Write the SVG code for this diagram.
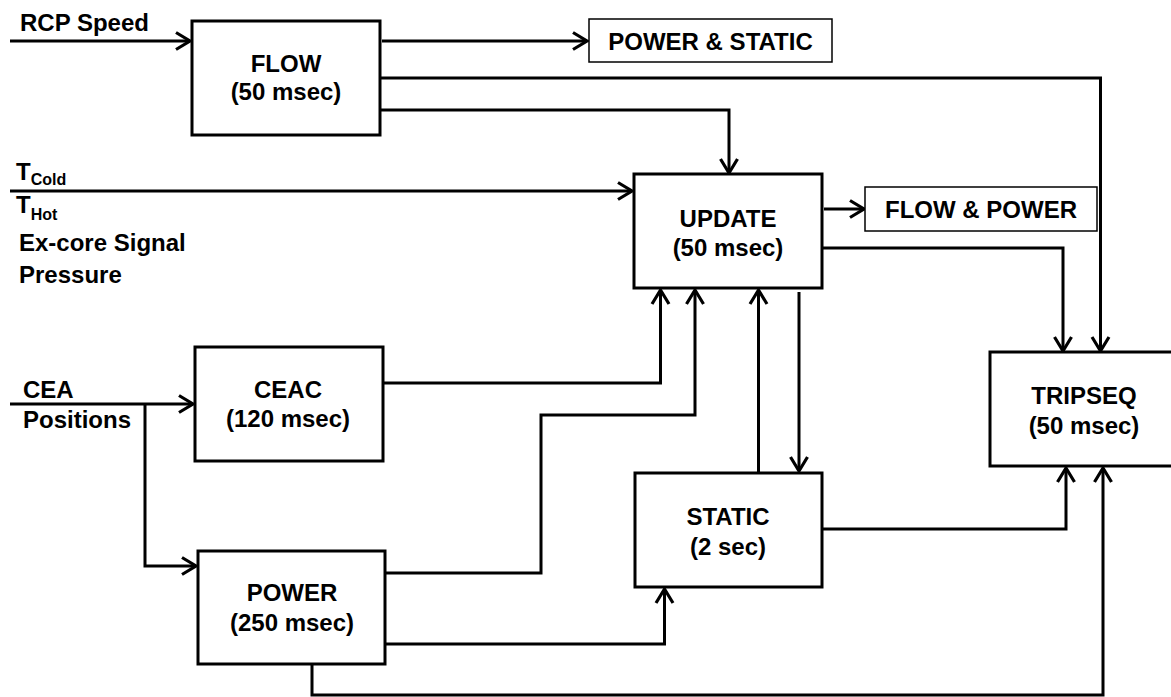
<svg xmlns="http://www.w3.org/2000/svg" width="1171" height="697" viewBox="0 0 1171 697">
<defs>
<style>
text{font-family:"Liberation Sans",Arial,sans-serif;font-weight:bold;fill:#000;font-size:24px}
.c{text-anchor:middle}
.sub{font-size:16px}
.node{fill:#fff;stroke:#000;stroke-width:3}
.lbl{fill:#fff;stroke:#000;stroke-width:1.5}
.wire{fill:none;stroke:#000;stroke-width:3;stroke-linejoin:miter;marker-end:url(#ah)}
</style>
<marker id="ah" markerUnits="userSpaceOnUse" markerWidth="24" markerHeight="24" viewBox="-18 -12 24 24" refX="0" refY="0" orient="auto" overflow="visible">
<path d="M-14,-8.5 L0,0 L-14,8.5" fill="none" stroke="#000" stroke-width="3.2"/>
</marker>
</defs>
<rect width="1171" height="697" fill="#fff"/>

<g id="inputs">
<text x="20" y="31">RCP Speed</text>
<text x="16" y="180">T<tspan class="sub" dy="5">Cold</tspan></text>
<text x="16" y="213">T<tspan class="sub" dy="7">Hot</tspan></text>
<text x="19" y="251">Ex-core Signal</text>
<text x="19" y="283">Pressure</text>
<text x="23" y="398">CEA</text>
<text x="23" y="428">Positions</text>
</g>

<g id="connectors">
<path class="wire" d="M10,41 H190"/>
<path class="wire" d="M382,41 H587"/>
<path class="wire" d="M380,78 H1100.5 V351"/>
<path class="wire" d="M380,110 H729 V173"/>
<path class="wire" d="M10,191 H632"/>
<path class="wire" d="M824,209 H864"/>
<path class="wire" d="M822,248 H1063 V351"/>
<path class="wire" d="M10,404 H193"/>
<path class="wire" d="M145,404 V566 H196"/>
<path class="wire" d="M383,383 H660.5 V290"/>
<path class="wire" d="M385,573 H541 V415 H695 V290"/>
<path class="wire" d="M758.5,473 V290"/>
<path class="wire" d="M799,292 V471"/>
<path class="wire" d="M385,644 H664.5 V589"/>
<path class="wire" d="M822,529 H1066 V468"/>
<path class="wire" d="M312,664 V695 H1103 V468"/>
</g>

<g id="flow">
<rect class="node" x="192" y="21" width="188" height="114"/>
<text class="c" x="286" y="72">FLOW</text>
<text class="c" x="286" y="100">(50 msec)</text>
</g>

<g id="power-static-out">
<rect class="lbl" x="589" y="19" width="243" height="43"/>
<text class="c" x="710.5" y="50">POWER &amp; STATIC</text>
</g>

<g id="update">
<rect class="node" x="634" y="174" width="188" height="114"/>
<text class="c" x="728" y="227">UPDATE</text>
<text class="c" x="728" y="256">(50 msec)</text>
</g>

<g id="flow-power-out">
<rect class="lbl" x="865" y="187" width="232" height="44"/>
<text class="c" x="981" y="218">FLOW &amp; POWER</text>
</g>

<g id="ceac">
<rect class="node" x="195" y="347" width="188" height="114"/>
<text class="c" x="288" y="398">CEAC</text>
<text class="c" x="288" y="427">(120 msec)</text>
</g>

<g id="power">
<rect class="node" x="198" y="551" width="187" height="113"/>
<text class="c" x="292" y="601">POWER</text>
<text class="c" x="292" y="631">(250 msec)</text>
</g>

<g id="static">
<rect class="node" x="635" y="473" width="187" height="114"/>
<text class="c" x="728" y="525">STATIC</text>
<text class="c" x="728" y="555">(2 sec)</text>
</g>

<g id="tripseq">
<rect class="node" x="990" y="352" width="200" height="114"/>
<text class="c" x="1084" y="404">TRIPSEQ</text>
<text class="c" x="1084" y="434">(50 msec)</text>
</g>
</svg>
